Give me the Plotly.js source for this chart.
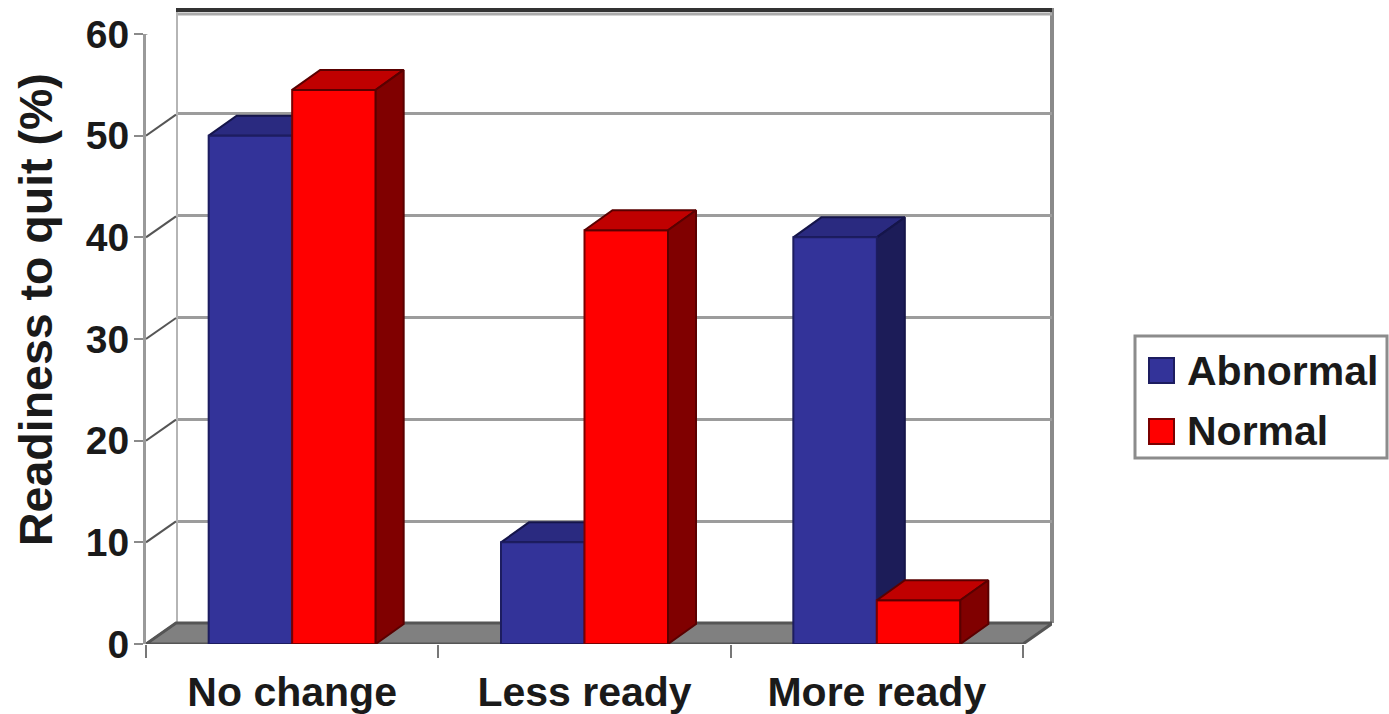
<!DOCTYPE html>
<html>
<head>
<meta charset="utf-8">
<script src="https://cdn.plot.ly/plotly-3.0.1.min.js"></script>
<style>html,body{margin:0;padding:0;background:#fff}</style>
</head>
<body>
<div id="chart" style="width:1389px;height:714px"></div>
<script>
// Readiness to quit, by group
const categories = ["No change", "Less ready", "More ready"];
const abnormal = [50, 10, 40];
const normal = [54.5, 40.7, 4.3];
const yTicks = [0, 10, 20, 30, 40, 50, 60];
const seriesNames = ["Abnormal", "Normal"];
const valueAxisTitle = "Readiness to quit (%)";

const W = 1389, H = 714;
const FONT = '"Liberation Sans", Arial, sans-serif';
const px = p => p / W;
const py = p => 1 - p / H;

// Pixel frame of the front plane and of the back wall
const front = {l: 146, r: 1023, t: 34, b: 644};
const wall = {l: 176, r: 1052, t: 11, b: 623};
const xRange = [-0.5, 2.5], yRange = [0, 60];
const catPx = (front.r - front.l) / 3, valPx = (front.b - front.t) / 60;

// Depth of the floor and of the bars, in axis units
const floorDx = 30 / catPx, floorDy = 21 / valPx;
const barDx = 28 / catPx, barDy = 20 / valPx;
const barW = 83.5 / catPx;

const colors = {
  blue: "#333399", blueTop: "#2a2a80", blueSide: "#1c1c58", blueEdge: "#1d1d60",
  red: "#ff0000", redTop: "#c00000", redSide: "#800000", redEdge: "#7a0000"
};

// Top and side faces of one series, built from its values
function faces(values, offset, topColor, sideColor, edge, axes) {
  const tx = [], ty = [], sx = [], sy = [];
  values.forEach((v, i) => {
    const a = i + offset, b = a + barW;
    tx.push(a, b, b + barDx, a + barDx, a, null);
    ty.push(v, v, v + barDy, v + barDy, v, null);
    sx.push(b, b, b + barDx, b + barDx, b, null);
    sy.push(0, v, v + barDy, barDy, 0, null);
  });
  const base = {type: "scatter", mode: "lines", fill: "toself", cliponaxis: false,
    hoverinfo: "skip", showlegend: false, line: {color: edge, width: 2}, ...axes};
  return [
    {...base, x: tx, y: ty, fillcolor: topColor},
    {...base, x: sx, y: sy, fillcolor: sideColor}
  ];
}

const wallAxes = {xaxis: "x", yaxis: "y"};
const floorAxes = {xaxis: "x2", yaxis: "y2"};
const barAxes = {xaxis: "x3", yaxis: "y3"};
const xs = categories.map((_, i) => i);

// Left edge of the back wall
const wallEdge = {type: "scatter", mode: "lines", cliponaxis: false, hoverinfo: "skip", showlegend: false,
  line: {color: "#b5b5b5", width: 4}, x: [xRange[0], xRange[0]], y: yRange, ...wallAxes};

// Floor slab between the front plane and the back wall
const floor = {type: "scatter", mode: "lines", fill: "toself", fillcolor: "#808080", cliponaxis: false,
  hoverinfo: "skip", showlegend: false, line: {color: "#555555", width: 3}, ...floorAxes,
  x: [xRange[0], xRange[1], xRange[1] + floorDx, xRange[0] + floorDx, xRange[0]],
  y: [0, 0, floorDy, floorDy, 0]};

// Diagonal connectors from each front tick back to its gridline
const connX = [], connY = [];
yTicks.forEach(v => {
  connX.push(xRange[0], xRange[0] + floorDx, null);
  connY.push(v, v + floorDy, null);
});
const connectors = {type: "scatter", mode: "lines", cliponaxis: false, hoverinfo: "skip", showlegend: false,
  line: {color: "#555555", width: 2}, x: connX, y: connY, ...floorAxes};

const bars = [
  {type: "bar", name: seriesNames[0], x: xs, y: abnormal, ...barAxes,
   marker: {color: colors.blue, line: {color: colors.blueEdge, width: 2}}},
  {type: "bar", name: seriesNames[1], x: xs, y: normal, ...barAxes,
   marker: {color: colors.red, line: {color: colors.redEdge, width: 2}}}
];

// Painting order: wall, floor and blue faces, then bar fronts, then red faces
const traces = [
  wallEdge, floor, connectors,
  ...faces(abnormal, -barW, colors.blueTop, colors.blueSide, "#15154a", floorAxes),
  ...bars,
  ...faces(normal, 0, colors.redTop, colors.redSide, "#5a0000", barAxes)
];

// Front axes run on past the last category so the floor and faces are not clipped
const frontRange = [xRange[0], xRange[1] + (wall.r - front.r) / catPx];
const hiddenX = {domain: [px(front.l), px(wall.r)], range: frontRange, type: "linear", fixedrange: true};
const hiddenY = {domain: [py(front.b), py(front.t)], range: yRange, type: "linear", fixedrange: true};
const textColor = "#1a1a1a";

const layout = {
  width: W, height: H, margin: {l: 0, r: 0, t: 0, b: 0},
  paper_bgcolor: "#ffffff", plot_bgcolor: "rgba(0,0,0,0)",
  showlegend: false, barmode: "group", bargap: 1 - 2 * barW, bargroupgap: 0,
  font: {family: FONT},
  // Back wall with its gridlines
  xaxis: {domain: [px(wall.l), px(wall.r)], range: xRange, type: "linear", showgrid: false, zeroline: false,
    showticklabels: false, ticks: "", fixedrange: true, anchor: "y"},
  yaxis: {domain: [py(wall.b), py(wall.t)], range: yRange, type: "linear", tickmode: "array", tickvals: yTicks,
    showgrid: true, gridcolor: "#9c9c9c", gridwidth: 3, zeroline: false, showticklabels: false, ticks: "",
    fixedrange: true, anchor: "x"},
  // Front plane: value ticks and category boundary ticks
  xaxis2: {...hiddenX, anchor: "y2", showgrid: false, zeroline: false, showticklabels: false, showline: false,
    tickmode: "array", tickvals: [-0.5, 0.5, 1.5, 2.5], ticks: "outside", ticklen: 13, tickwidth: 2, tickcolor: "#777777"},
  yaxis2: {...hiddenY, anchor: "x2", showgrid: false, zeroline: false, tickmode: "array", tickvals: yTicks,
    ticktext: yTicks.map(String), ticks: "outside", ticklen: 9, tickwidth: 2, tickcolor: "#8a8a8a",
    ticklabelstandoff: -3, showline: true, linecolor: "#9a9a9a", linewidth: 3,
    tickfont: {family: FONT, size: 39, weight: "bold", color: textColor}},
  // Bar fronts and category labels
  xaxis3: {...hiddenX, anchor: "y3", showgrid: false, zeroline: false, tickmode: "array", tickvals: xs,
    ticktext: categories, ticks: "outside", ticklen: 12, tickcolor: "rgba(0,0,0,0)",
    tickfont: {family: FONT, size: 41, weight: "bold", color: textColor}},
  yaxis3: {...hiddenY, anchor: "x3", showgrid: false, zeroline: false, showticklabels: false, ticks: ""},
  shapes: [
    // Wall frame
    {type: "line", xref: "paper", yref: "paper", x0: px(wall.r), x1: px(wall.r), y0: py(wall.b), y1: py(8),
     line: {color: "#8a8a8a", width: 4}, layer: "below"},
    {type: "line", xref: "paper", yref: "paper", x0: px(wall.l), x1: px(wall.r), y0: py(14), y1: py(14),
     line: {color: "#aaaaaa", width: 3}, layer: "below"},
    {type: "line", xref: "paper", yref: "paper", x0: px(wall.l), x1: px(wall.r), y0: py(10), y1: py(10),
     line: {color: "#333333", width: 4}},
    // Legend box and swatches
    {type: "rect", xref: "paper", yref: "paper", x0: px(1135), x1: px(1387), y0: py(458), y1: py(336),
     line: {color: "#8c8c8c", width: 3}, fillcolor: "#ffffff"},
    {type: "rect", xref: "paper", yref: "paper", x0: px(1149), x1: px(1174), y0: py(383), y1: py(358),
     line: {color: colors.blueEdge, width: 2}, fillcolor: colors.blue},
    {type: "rect", xref: "paper", yref: "paper", x0: px(1149), x1: px(1174), y0: py(444), y1: py(419),
     line: {color: colors.redEdge, width: 2}, fillcolor: colors.red}
  ],
  annotations: [
    ...seriesNames.map((name, i) => ({
      text: name, xref: "paper", yref: "paper", x: px(1185), y: py(371 + i * 60),
      xanchor: "left", yanchor: "middle", showarrow: false,
      font: {family: FONT, size: 41, weight: "bold", color: textColor}
    })),
    // Value-axis title, centred on the wall's visible span
    {text: valueAxisTitle, textangle: -90, xref: "paper", yref: "paper", x: px(36), y: py(310),
     xanchor: "center", yanchor: "middle", showarrow: false,
     font: {family: FONT, size: 46.5, weight: "bold", color: textColor}}
  ]
};

Plotly.newPlot("chart", traces, layout, {staticPlot: true, displayModeBar: false});
</script>
</body>
</html>
